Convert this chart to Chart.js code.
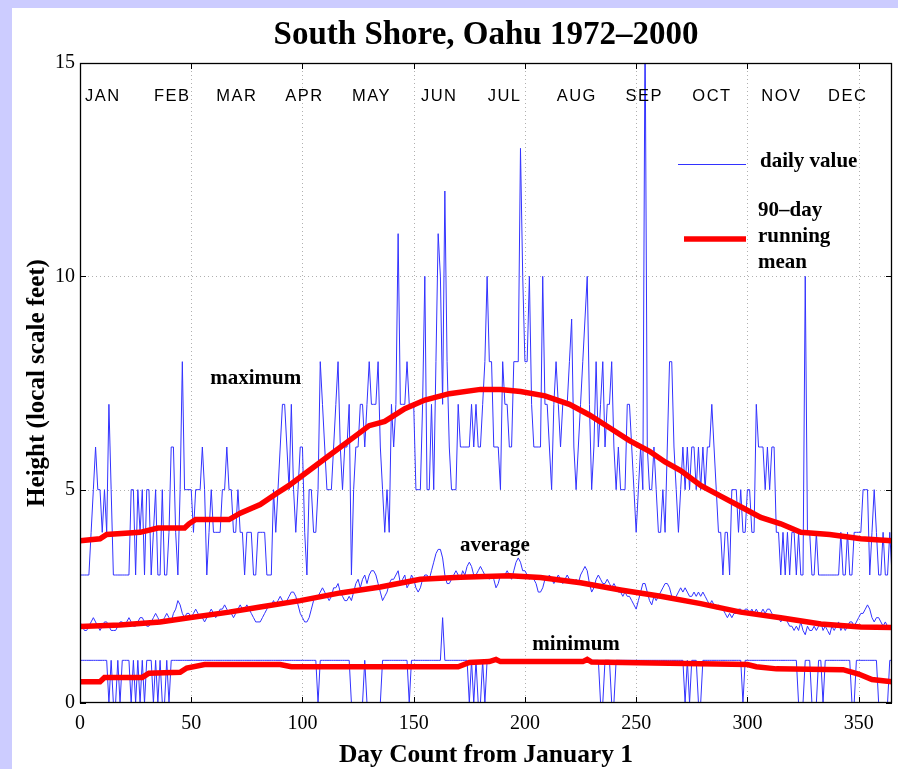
<!DOCTYPE html>
<html>
<head>
<meta charset="utf-8">
<title>South Shore, Oahu 1972–2000</title>
<script src="https://cdn.jsdelivr.net/npm/chart.js@4.4.1/dist/chart.umd.min.js"></script>
<style>
  html, body { margin: 0; padding: 0; }
  body { width: 898px; height: 769px; background: #ccccff; position: relative; overflow: hidden; }
  #sheet { position: absolute; left: 12px; top: 8px; right: 0; bottom: 0; background: #fff; }
  #wrap { position: absolute; left: 0; top: 0; width: 898px; height: 769px; }
</style>
</head>
<body>
<div id="sheet"></div>
<div id="wrap"><canvas id="chart" width="898" height="769"></canvas></div>
<script>
// daily wave heights (local scale feet), one value per day from Jan 1 (day 0 .. 365)
const maxDaily = [
  3,3,3,3,3,4,5,6,5,5,   4,5,4,7,5,3,3,3,3,3,   3,3,3,5,5,3,5,4,5,3,
  5,5,3,4,5,3,3,5,3,3,   4,6,6,4,3,5,8,5,5,5,   5,4,5,5,5,6,5,3,4,5,
  4,4,4,4,5,5,6,5,5,4,   4,5,4,4,3,4,4,4,3,3,   4,4,4,4,3,3,3,5,4,5,
  6,7,7,6,5,7,5,4,5,6,   6,4,3,5,5,4,4,5,8,7,   6,5,5,5,6,7,8,6,5,6,
  6,7,3,5,6,6,7,7,6,7,   8,7,7,7,8,6,5,4,5,4,   7,6,7,11,7,7,7,8,7,7,
  7,5,5,5,7,10,5,5,7,5,  8,11,10,7,12,8,6,5,5,5, 7,6,6,6,6,6,7,6,7,6,
  6,7,8,10,8,8,6,6,6,5,  8,7,7,6,6,8,8,8,13,10, 8,8,10,7,6,6,6,6,10,7,
  7,6,5,7,8,7,6,7,7,7,   8,9,6,5,6,7,8,9,10,7,  5,6,8,6,7,8,6,7,7,8,
  6,5,6,5,5,5,7,7,6,5,   4,5,6,5,16,6,5,5,6,5,  4,4,5,4,6,8,8,6,5,4,
  5,6,5,6,5,6,6,5,6,5,   6,5,6,6,7,6,5,4,4,3,   4,4,3,5,5,5,4,5,4,4,
  5,5,4,4,7,6,6,6,5,6,   5,6,6,4,4,3,4,3,4,3,   4,4,3,4,3,3,10,4,4,3,
  3,4,3,3,3,3,3,3,3,3,   3,3,4,3,3,4,3,3,4,4,   4,4,5,5,5,3,4,5,4,3,
  3,4,3,3,4,3
];

const avgDaily = [
  1.9,1.8,1.7,1.7,1.8,1.9,2.0,1.9,1.8,1.7,  1.8,1.9,1.9,1.8,1.7,1.7,1.7,1.8,1.9,1.9,
  1.8,1.9,2.0,1.9,1.8,1.8,1.9,2.0,2.0,1.9,  1.8,1.8,1.9,2.0,2.1,2.0,1.9,1.9,2.0,2.1,
  2.0,1.9,2.1,2.2,2.4,2.3,2.1,2.0,2.1,2.1,  2.0,2.1,2.2,2.1,2.0,2.0,1.9,2.0,2.1,2.2,
  2.1,2.0,2.1,2.2,2.2,2.3,2.2,2.1,2.1,2.0,  2.1,2.2,2.3,2.2,2.2,2.3,2.2,2.1,2.0,1.9,
  1.9,1.9,2.0,2.1,2.2,2.3,2.3,2.4,2.3,2.4,  2.5,2.4,2.3,2.4,2.5,2.6,2.6,2.5,2.3,2.1,
  2.0,1.9,1.9,2.0,2.2,2.4,2.5,2.5,2.6,2.7,  2.6,2.5,2.4,2.5,2.7,2.7,2.8,2.6,2.5,2.4,
  2.4,2.5,2.4,2.6,2.8,2.9,2.7,2.9,3.0,2.8,  3.0,3.1,3.1,3.0,2.8,2.6,2.4,2.5,2.6,2.8,
  2.9,2.9,3.0,3.1,2.8,2.9,3.0,2.7,2.8,3.0,  2.9,2.7,2.6,2.7,2.9,3.0,3.0,2.9,3.1,3.3,
  3.5,3.6,3.6,3.4,3.0,2.8,2.8,2.9,3.0,3.1,  3.0,2.9,3.1,3.0,3.2,3.3,3.2,3.0,3.0,3.1,
  3.2,3.1,3.0,3.0,2.9,3.0,2.9,2.7,2.8,3.0,  3.0,3.0,3.1,3.0,2.9,3.1,3.3,3.4,3.3,3.1,
  3.1,3.0,2.9,3.0,2.9,2.8,2.6,2.6,2.7,2.9,  2.9,3.0,2.9,2.8,2.9,3.0,2.9,2.8,2.9,3.0,
  2.9,2.8,2.8,2.9,2.8,3.0,3.1,3.2,3.1,2.8,  2.6,2.7,2.9,3.0,2.9,2.8,2.8,2.9,2.8,2.7,
  2.8,2.7,2.6,2.6,2.5,2.6,2.5,2.5,2.4,2.3,  2.2,2.4,2.6,2.8,2.8,2.6,2.4,2.3,2.5,2.4,
  2.5,2.6,2.7,2.8,2.8,2.7,2.5,2.4,2.5,2.6,  2.7,2.6,2.7,2.6,2.5,2.5,2.6,2.5,2.6,2.5,
  2.6,2.5,2.4,2.3,2.4,2.3,2.2,2.3,2.2,2.2,  2.1,2.0,2.1,2.0,2.1,2.1,2.2,2.2,2.1,2.2,
  2.2,2.1,2.2,2.1,2.2,2.1,2.1,2.2,2.1,2.2,  2.2,2.1,2.0,2.0,2.0,1.9,2.0,2.0,1.9,1.8,
  1.8,1.7,1.8,1.7,1.9,1.7,1.6,1.8,1.7,1.7,  1.8,1.7,1.8,1.9,1.7,1.8,1.7,1.6,1.8,1.7,
  1.8,1.9,1.7,1.8,1.7,1.8,1.9,1.9,1.8,1.9,  2.0,2.1,2.1,2.2,2.3,2.2,2.0,1.9,2.0,2.0,
  1.9,1.8,1.9,1.8,1.8,1.8
];

const minDaily = [
  1,1,1,1,1,1,1,1,1,1,  1,1,1,0,1,0,0,1,0,1,  1,1,1,0,1,0,1,0,1,0,
  1,1,1,0,1,0,1,0,0,1,  0,1,1,1,1,1,1,1,1,1,  1,1,1,1,1,1,1,1,1,1,
  1,1,1,1,1,1,1,1,1,1,  1,1,1,1,1,1,1,1,1,1,  1,1,1,1,1,1,1,1,1,1,
  1,1,1,1,1,1,1,1,1,1,  1,1,1,1,1,1,1,0,1,1,  1,1,1,1,1,1,1,1,1,1,
  1,1,0,0,0,0,0,0,1,0,  0,0,0,0,0,0,1,1,1,1,  1,1,1,1,1,1,1,1,0,1,
  1,1,1,1,1,1,1,1,1,1,  1,1,1,2,1,1,1,1,1,1,  1,1,1,1,1,0,1,0,1,0,
  0,1,0,1,1,1,1,1,1,1,  1,1,1,1,1,1,1,1,1,1,  1,1,1,1,1,1,1,1,1,1,
  1,1,1,1,1,1,1,1,1,1,  1,1,1,1,1,1,1,1,1,1,  1,1,1,1,0,0,1,1,1,0,
  0,1,1,1,1,1,1,1,1,1,  1,1,1,1,1,1,1,1,1,1,  1,1,1,1,1,1,1,1,1,1,
  1,1,0,1,0,1,1,1,0,0,  1,1,1,1,1,1,1,1,1,1,  1,1,1,1,1,1,1,1,0,1,
  1,1,1,1,1,1,1,1,1,1,  1,1,1,1,1,1,1,1,1,1,  1,1,1,0,0,0,1,1,1,0,
  0,0,1,1,0,1,1,1,1,1,  1,1,1,1,1,1,1,0,0,1,  1,1,1,1,1,1,1,1,1,0,
  0,0,0,0,1,1
];

// 90-day running means, read at the days where their slope changes
const maxMeanDays = [0, 9, 12, 27, 35, 47, 49, 52, 67, 72, 81, 88, 94, 103, 112, 121, 130, 137, 146, 155,
  166, 180, 189, 198, 209, 220, 229, 238, 247, 256, 263, 270, 279, 288, 297, 306, 315, 324, 337, 351, 365];
const maxMeanVals = [3.8, 3.85, 3.95, 4.0, 4.1, 4.1, 4.2, 4.3, 4.3, 4.45, 4.65, 4.9, 5.1, 5.45, 5.8, 6.15, 6.5, 6.6, 6.9, 7.1,
  7.25, 7.35, 7.35, 7.3, 7.2, 7.0, 6.75, 6.45, 6.15, 5.9, 5.65, 5.45, 5.1, 4.85, 4.6, 4.35, 4.2, 4.0, 3.95, 3.85, 3.8];

const avgMeanDays = [0, 18, 36, 49, 67, 81, 99, 117, 135, 153, 171, 193, 207, 225, 243, 261, 279, 297, 315, 333, 351, 365];
const avgMeanVals = [1.79, 1.83, 1.9, 2.0, 2.13, 2.25, 2.4, 2.58, 2.72, 2.9, 2.95, 2.98, 2.94, 2.82, 2.65, 2.5, 2.33, 2.13, 2.0, 1.85, 1.78, 1.77];

const minMeanDays = [0, 9, 11, 28, 31, 45, 48, 56, 90, 95, 170, 175, 184, 187, 189, 191, 226, 228, 230, 300,
  304, 313, 343, 350, 356, 365];
const minMeanVals = [0.5, 0.5, 0.6, 0.6, 0.7, 0.72, 0.82, 0.9, 0.9, 0.85, 0.85, 0.95, 0.97, 1.02, 0.97, 0.97, 0.97, 1.02, 0.96, 0.9,
  0.85, 0.8, 0.78, 0.68, 0.55, 0.5];

const xTickValues = [0, 50, 100, 150, 200, 250, 300, 350];
const yTickValues = [0, 5, 10, 15];
const monthNames = ["JAN", "FEB", "MAR", "APR", "MAY", "JUN", "JUL", "AUG", "SEP", "OCT", "NOV", "DEC"];
const monthStarts = [0, 31, 59, 90, 120, 151, 181, 212, 243, 273, 304, 334];

const curveLabels = [
  { text: "maximum", day: 79, value: 7.6 },
  { text: "average", day: 186.5, value: 3.7 },
  { text: "minimum", day: 223, value: 1.37 }
];

const BLUE = "rgb(50,50,255)";
const RED = "#ff0000";
const SERIF = '"Liberation Serif", "Times New Roman", serif';
const SANS = '"Liberation Sans", Arial, sans-serif';

function daily(values) {
  return values.map((v, i) => ({ x: i, y: v }));
}

function knots(days, values) {
  return days.map((d, i) => ({ x: d, y: values[i] }));
}

function dailySet(values) {
  return { data: daily(values), borderColor: BLUE, borderWidth: 1, pointRadius: 0, tension: 0, order: 1 };
}

function meanSet(days, values) {
  return { data: knots(days, values), borderColor: RED, borderWidth: 5.5, pointRadius: 0, tension: 0, order: 0 };
}

function line(ctx, x1, y1, x2, y2) {
  ctx.beginPath();
  ctx.moveTo(x1, y1);
  ctx.lineTo(x2, y2);
  ctx.stroke();
}

const decor = {
  id: "decor",
  beforeDatasetsDraw(chart) {
    const { ctx, chartArea: a, scales: { x, y } } = chart;
    ctx.save();
    ctx.strokeStyle = "#b0b0b0";
    ctx.lineWidth = 1;
    ctx.setLineDash([1, 3]);
    xTickValues.forEach(v => {
      if (v === 0) return;
      const px = Math.round(x.getPixelForValue(v)) + 0.5;
      line(ctx, px, a.top, px, a.bottom);
    });
    yTickValues.forEach(v => {
      if (v === 0 || v === 15) return;
      const py = Math.round(y.getPixelForValue(v)) + 0.5;
      line(ctx, a.left, py, a.right, py);
    });
    ctx.restore();
  },
  afterDraw(chart) {
    const { ctx, chartArea: a, scales: { x, y } } = chart;
    ctx.save();

    // frame and inward tick marks
    ctx.strokeStyle = "#000";
    ctx.lineWidth = 1.3;
    ctx.strokeRect(a.left + 0.5, a.top + 0.5, a.right - a.left - 1, a.bottom - a.top - 1);
    ctx.lineWidth = 1;
    xTickValues.forEach(v => {
      const px = Math.round(x.getPixelForValue(v)) + 0.5;
      line(ctx, px, a.bottom, px, a.bottom - 6);
      line(ctx, px, a.top, px, a.top + 6);
    });
    yTickValues.forEach(v => {
      const py = Math.round(y.getPixelForValue(v)) + 0.5;
      line(ctx, a.left, py, a.left + 6, py);
      line(ctx, a.right, py, a.right - 6, py);
    });

    // month names along the top
    ctx.fillStyle = "#000";
    ctx.font = "16.5px " + SANS;
    ctx.letterSpacing = "1.5px";
    ctx.textAlign = "left";
    ctx.textBaseline = "middle";
    monthNames.forEach((m, i) => {
      ctx.fillText(m, x.getPixelForValue(monthStarts[i]) + 5, a.top + 33);
    });
    ctx.letterSpacing = "0px";

    // legend
    const lx = a.right - 214;
    ctx.strokeStyle = BLUE;
    ctx.lineWidth = 1;
    line(ctx, lx, 164.5, lx + 68, 164.5);
    ctx.strokeStyle = RED;
    ctx.lineWidth = 5.5;
    line(ctx, lx + 6, 239, lx + 68, 239);
    ctx.font = "bold 21px " + SERIF;
    ctx.textAlign = "left";
    ctx.textBaseline = "middle";
    ctx.fillText("daily value", lx + 82, 162);
    ctx.fillText("90\u2013day", lx + 80, 211);
    ctx.fillText("running", lx + 80, 237);
    ctx.fillText("mean", lx + 80, 263);

    // curve names
    ctx.textAlign = "center";
    curveLabels.forEach(c => {
      ctx.fillText(c.text, x.getPixelForValue(c.day), y.getPixelForValue(c.value));
    });

    // titles
    const cx = (a.left + a.right) / 2;
    ctx.font = "bold 33px " + SERIF;
    ctx.fillText("South Shore, Oahu 1972\u20132000", cx, 35);
    ctx.font = "bold 25.5px " + SERIF;
    ctx.fillText("Day Count from January 1", cx, 755);
    ctx.font = "bold 25px " + SERIF;
    ctx.translate(38, (a.top + a.bottom) / 2);
    ctx.rotate(-Math.PI / 2);
    ctx.fillText("Height (local scale feet)", 0, 0);
    ctx.restore();
  }
};

new Chart(document.getElementById("chart"), {
  type: "line",
  data: {
    datasets: [
      dailySet(maxDaily),
      dailySet(avgDaily),
      dailySet(minDaily),
      meanSet(maxMeanDays, maxMeanVals),
      meanSet(avgMeanDays, avgMeanVals),
      meanSet(minMeanDays, minMeanVals)
    ]
  },
  options: {
    responsive: false,
    animation: false,
    devicePixelRatio: 1,
    layout: { padding: { left: 0, top: 63, right: 6, bottom: 0 } },
    plugins: { legend: { display: false }, tooltip: { enabled: false }, title: { display: false } },
    scales: {
      x: {
        type: "linear",
        min: 0,
        max: 365,
        grid: { display: false, drawTicks: false },
        border: { display: false },
        ticks: { color: "#000", font: { family: SERIF, size: 20 }, padding: 9, maxRotation: 0, autoSkip: false },
        afterBuildTicks: s => { s.ticks = xTickValues.map(v => ({ value: v })); },
        afterFit: s => { s.height = 66; }
      },
      y: {
        min: 0,
        max: 15,
        grid: { display: false, drawTicks: false },
        border: { display: false },
        ticks: { color: "#000", font: { family: SERIF, size: 20 }, padding: 5 },
        afterBuildTicks: s => { s.ticks = yTickValues.map(v => ({ value: v })); },
        afterFit: s => { s.width = 80; }
      }
    }
  },
  plugins: [decor]
});
</script>
</body>
</html>
